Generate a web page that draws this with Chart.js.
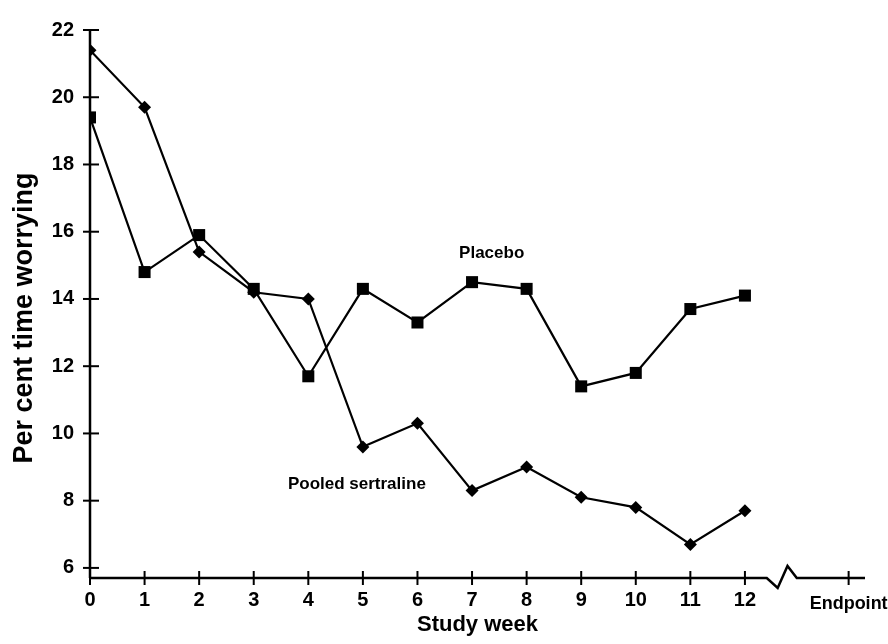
<!DOCTYPE html>
<html>
<head>
<meta charset="utf-8">
<script src="https://cdn.jsdelivr.net/npm/chart.js@4"></script>
<style>
html,body{margin:0;padding:0;background:#fff}
#wrap{width:888px;height:644px}
</style>
</head>
<body>
<div id="wrap"><canvas id="worryChart"></canvas></div>
<script>
// data
const weeks=[0,1,2,3,4,5,6,7,8,9,10,11,12];
const placebo=[19.4,14.8,15.9,14.3,11.7,14.3,13.3,14.5,14.3,11.4,11.8,13.7,14.1];
const sertraline=[21.4,19.7,15.4,14.2,14.0,9.6,10.3,8.3,9.0,8.1,7.8,6.7,7.7];
const yTicks=[6,8,10,12,14,16,18,20,22];
const endpointX=13.9;
const xTicks=[0,1,2,3,4,5,6,7,8,9,10,11,12,endpointX];
const xTickLabels=['0','1','2','3','4','5','6','7','8','9','10','11','12','Endpoint'];

const FONT='"Liberation Sans", Arial, Helvetica, sans-serif';

// axis lines with crossing ticks + the axis break, y title and the two series labels
const axesPlugin={id:'axes',
  beforeDatasetsDraw(chart){
    const {ctx,chartArea:a,scales:{x,y}}=chart;
    ctx.save();
    ctx.strokeStyle='#000';ctx.lineWidth=2.5;ctx.lineCap='butt';
    const yTop=y.getPixelForValue(22);
    ctx.beginPath();ctx.moveTo(a.left,a.bottom);ctx.lineTo(a.left,yTop);ctx.stroke();
    // x axis with break
    const b0=x.getPixelForValue(12.4),b1=x.getPixelForValue(12.6),b2=x.getPixelForValue(12.78),b3=x.getPixelForValue(12.95);
    ctx.beginPath();ctx.moveTo(a.left,a.bottom);ctx.lineTo(b0,a.bottom);
    ctx.lineTo(b1,a.bottom+10);ctx.lineTo(b2,a.bottom-12);ctx.lineTo(b3,a.bottom);
    ctx.lineTo(a.right,a.bottom);ctx.stroke();
    ctx.lineWidth=2;
    yTicks.forEach(v=>{const p=y.getPixelForValue(v);ctx.beginPath();ctx.moveTo(a.left-7,p);ctx.lineTo(a.left+9,p);ctx.stroke();});
    xTicks.forEach(v=>{const p=x.getPixelForValue(v);ctx.beginPath();ctx.moveTo(p,a.bottom-7);ctx.lineTo(p,a.bottom+7);ctx.stroke();});
    // y title
    ctx.fillStyle='#000';ctx.font='bold 27px '+FONT;ctx.textAlign='center';ctx.textBaseline='middle';
    ctx.translate(25,318);ctx.rotate(-Math.PI/2);
    ctx.fillText('Per cent time worrying',0,0);
    ctx.restore();
  },
  afterDatasetsDraw(chart){
    const {ctx,scales:{x,y}}=chart;
    ctx.save();
    ctx.fillStyle='#000';ctx.font='bold 17px '+FONT;ctx.textAlign='center';ctx.textBaseline='middle';
    ctx.fillText('Placebo',x.getPixelForValue(7.36),y.getPixelForValue(15.37));
    ctx.fillText('Pooled sertraline',x.getPixelForValue(4.89),y.getPixelForValue(8.48));
    ctx.restore();
  }
};

new Chart(document.getElementById('worryChart'),{type:'line',
  data:{labels:weeks,datasets:[
    {label:'Placebo',data:placebo,borderColor:'#000',borderWidth:2.2,pointStyle:'rect',pointRadius:8.5,pointBackgroundColor:'#000',pointBorderWidth:0,tension:0},
    {label:'Pooled sertraline',data:sertraline,borderColor:'#000',borderWidth:2.2,pointStyle:'rectRot',pointRadius:6.5,pointBackgroundColor:'#000',pointBorderWidth:0,tension:0}
  ]},
  options:{responsive:true,maintainAspectRatio:false,animation:false,
    layout:{padding:{top:30,right:23,left:0,bottom:0}},
    plugins:{legend:{display:false},tooltip:{enabled:false}},
    scales:{
      x:{type:'linear',min:0,max:14.2,
        grid:{display:false,drawTicks:false},border:{display:false},
        afterBuildTicks:s=>{s.ticks=xTicks.map(v=>({value:v}));},
        afterFit:s=>{s.height=66;s.paddingLeft=0;s.paddingRight=0;},
        ticks:{color:'#000',padding:10,maxRotation:0,autoSkip:false,
          font:c=>(c.tick&&c.tick.value===endpointX)?{family:FONT,size:18,weight:'bold',lineHeight:1.75}:{family:FONT,size:20,weight:'bold'},
          callback:(v)=>xTickLabels[xTicks.indexOf(v)]},
        title:{display:true,text:'Study week',color:'#000',font:{family:FONT,size:22,weight:'bold'},padding:{top:0,bottom:6}}
      },
      y:{min:5.7,max:22,
        grid:{display:false,drawTicks:false},border:{display:false},
        afterBuildTicks:s=>{s.ticks=yTicks.map(v=>({value:v}));},
        afterFit:s=>{s.width=90;s.paddingTop=0;s.paddingBottom=0;},
        ticks:{color:'#000',padding:16,font:{family:FONT,size:20,weight:'bold'}}
      }
    }
  },
  plugins:[axesPlugin]
});
</script>
</body>
</html>
